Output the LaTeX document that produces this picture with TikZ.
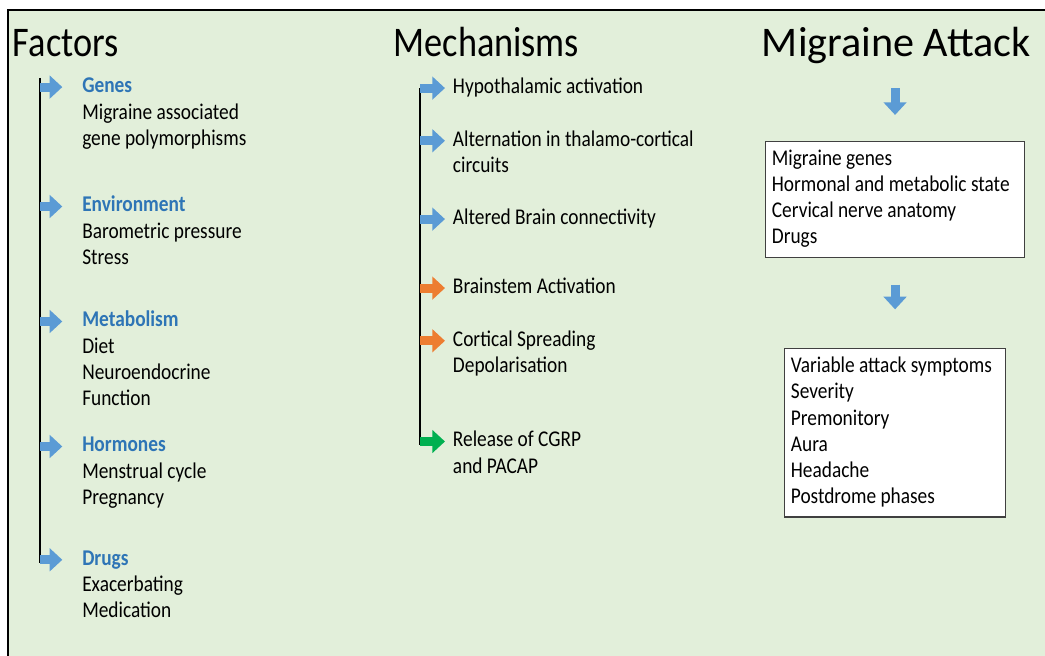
\documentclass[tikz,border=0pt]{standalone}
\usepackage{fontspec}
\setmainfont{Carlito}[FakeStretch=0.86]
\newfontfamily\widefont{Carlito}
\usepackage{tikz}
\usetikzlibrary{positioning}
\usetikzlibrary{arrows.meta}
\usepackage{xcolor}

\definecolor{bggreen}{HTML}{E2EFDA}
\definecolor{headblue}{HTML}{2E75B6}
\definecolor{arrblue}{HTML}{5B9BD5}
\definecolor{arrorange}{HTML}{ED7D31}
\definecolor{arrgreen}{HTML}{00B050}
\definecolor{boxgray}{HTML}{404040}

\tikzset{
  title/.style={anchor=base west, inner sep=0pt, font=\fontsize{30}{36}\selectfont},
  item/.style={anchor=west, inner sep=0pt, font=\fontsize{16}{18.6}\selectfont},
  head/.style={item, text=headblue, font=\fontsize{16}{18.6}\selectfont\bfseries},
  sub/.style={anchor=north west, inner sep=0pt, align=left, font=\fontsize{16}{18.6}\selectfont},
  spine/.style={black, line width=1pt},
  blockarrow/.style={line width=6.4pt, -{Triangle[length=9pt, width=16pt]}},
  listbox/.style={draw=boxgray, line width=0.8pt, fill=white, anchor=north west,
    align=flush left, inner xsep=4.5pt, inner ysep=4pt, font=\fontsize{16}{18.6}\selectfont}
}

\begin{document}
\begin{tikzpicture}[x=0.025cm, y=-0.025cm]

\useasboundingbox (0,0) rectangle (1045,656);
\fill[white] (0,0) rectangle (1045,656);
\fill[bggreen] (8,10) rectangle (1045,656);
\draw[black, line width=2pt] (8,656)--(8,10)--(1045,10);

% titles
\node[title] (factors) at (12.7,57) {Factors};
\node[title] (mechs) at (393.3,57) {Mechanisms};
\node[title] (attack) at (761.7,57) {\widefont Migraine Attack};

\begin{scope}{
% factors
\coordinate (ftop) at (40,78);
\coordinate (fbot) at (40,563);
\draw[spine] (ftop)--(fbot);

% nodes
{
\node[head] (genes) at (82,87.1) {\strut Genes};
\node[sub, below=0pt of genes.south west, anchor=north west] (genestxt)
  {\strut Migraine associated\\\strut gene polymorphisms};

\node[head] (env) at (82,206.5) {\strut Environment};
\node[sub, below=0pt of env.south west, anchor=north west] (envtxt)
  {\strut Barometric pressure\\\strut Stress};

\node[head] (metab) at (82,321.5) {\strut Metabolism};
\node[sub, below=0pt of metab.south west, anchor=north west] (metabtxt)
  {\strut Diet\\\strut Neuroendocrine\\\strut Function};

\node[head] (horm) at (82,446.5) {\strut Hormones};
\node[sub, below=0pt of horm.south west, anchor=north west] (hormtxt)
  {\strut Menstrual cycle\\\strut Pregnancy};

\node[head] (drugs) at (82,559.8) {\strut Drugs};
\node[sub, below=0pt of drugs.south west, anchor=north west] (drugstxt)
  {\strut Exacerbating\\\strut Medication};
}

\foreach \n in {genes,env,metab,horm,drugs}
  \draw[blockarrow, arrblue, shorten >=14pt] (ftop |- \n.west)--(\n.west);

} \end{scope}

\begin{scope}{
% mechanisms
\coordinate (mtop) at (420,88);
\coordinate (mbot) at (420,445);
\draw[spine] (mtop)--(mbot);

% nodes
{
\node[item] (hypo) at (452.7,88.1) {\strut Hypothalamic activation};

\node[item] (thal) at (452.7,140.8) {\strut Alternation in thalamo-cortical};
\node[sub, below=0pt of thal.south west, anchor=north west] (thaltxt) {\strut circuits};

\node[item] (conn) at (452.7,219.1) {\strut Altered Brain connectivity};

\node[item] (brstem) at (452.7,288.1) {\strut Brainstem Activation};

\node[item] (csd) at (452.7,340.8) {\strut Cortical Spreading};
\node[sub, below=0pt of csd.south west, anchor=north west] (csdtxt) {\strut Depolarisation};

\node[item] (cgrp) at (452.7,441.5) {\strut Release of CGRP};
\node[sub, below=0pt of cgrp.south west, anchor=north west] (cgrptxt) {\strut and PACAP};
}

\foreach \n in {hypo,thal,conn}
  \draw[blockarrow, arrblue, shorten >=5.5pt] (mtop |- \n.west)--(\n.west);
\foreach \n in {brstem,csd}
  \draw[blockarrow, arrorange, shorten >=5.5pt] (mtop |- \n.west)--(\n.west);
\draw[blockarrow, arrgreen, shorten >=5.5pt] (mtop |- cgrp.west)--(cgrp.west);

} \end{scope}

\begin{scope}{
% migraine attack
\node[listbox, text width=175.2pt] (state) at (765,140.7)
  {\strut Migraine genes\\\strut Hormonal and metabolic state\\
   \strut Cervical nerve anatomy\\\strut Drugs};

\node[listbox, text width=148.2pt] (symptoms) at (784,348.3)
  {\strut Variable attack symptoms\\\strut Severity\\\strut Premonitory\\
   \strut Aura\\\strut Headache\\\strut Postdrome phases};

\draw[blockarrow, arrblue, shorten <=22.3pt, shorten >=18.3pt]
  (state.north |- attack.base)--(state.north);
\draw[blockarrow, arrblue, shorten <=19.2pt, shorten >=27.7pt]
  (state.south)--(state.south |- symptoms.north);
} \end{scope}

\end{tikzpicture}
\end{document}
